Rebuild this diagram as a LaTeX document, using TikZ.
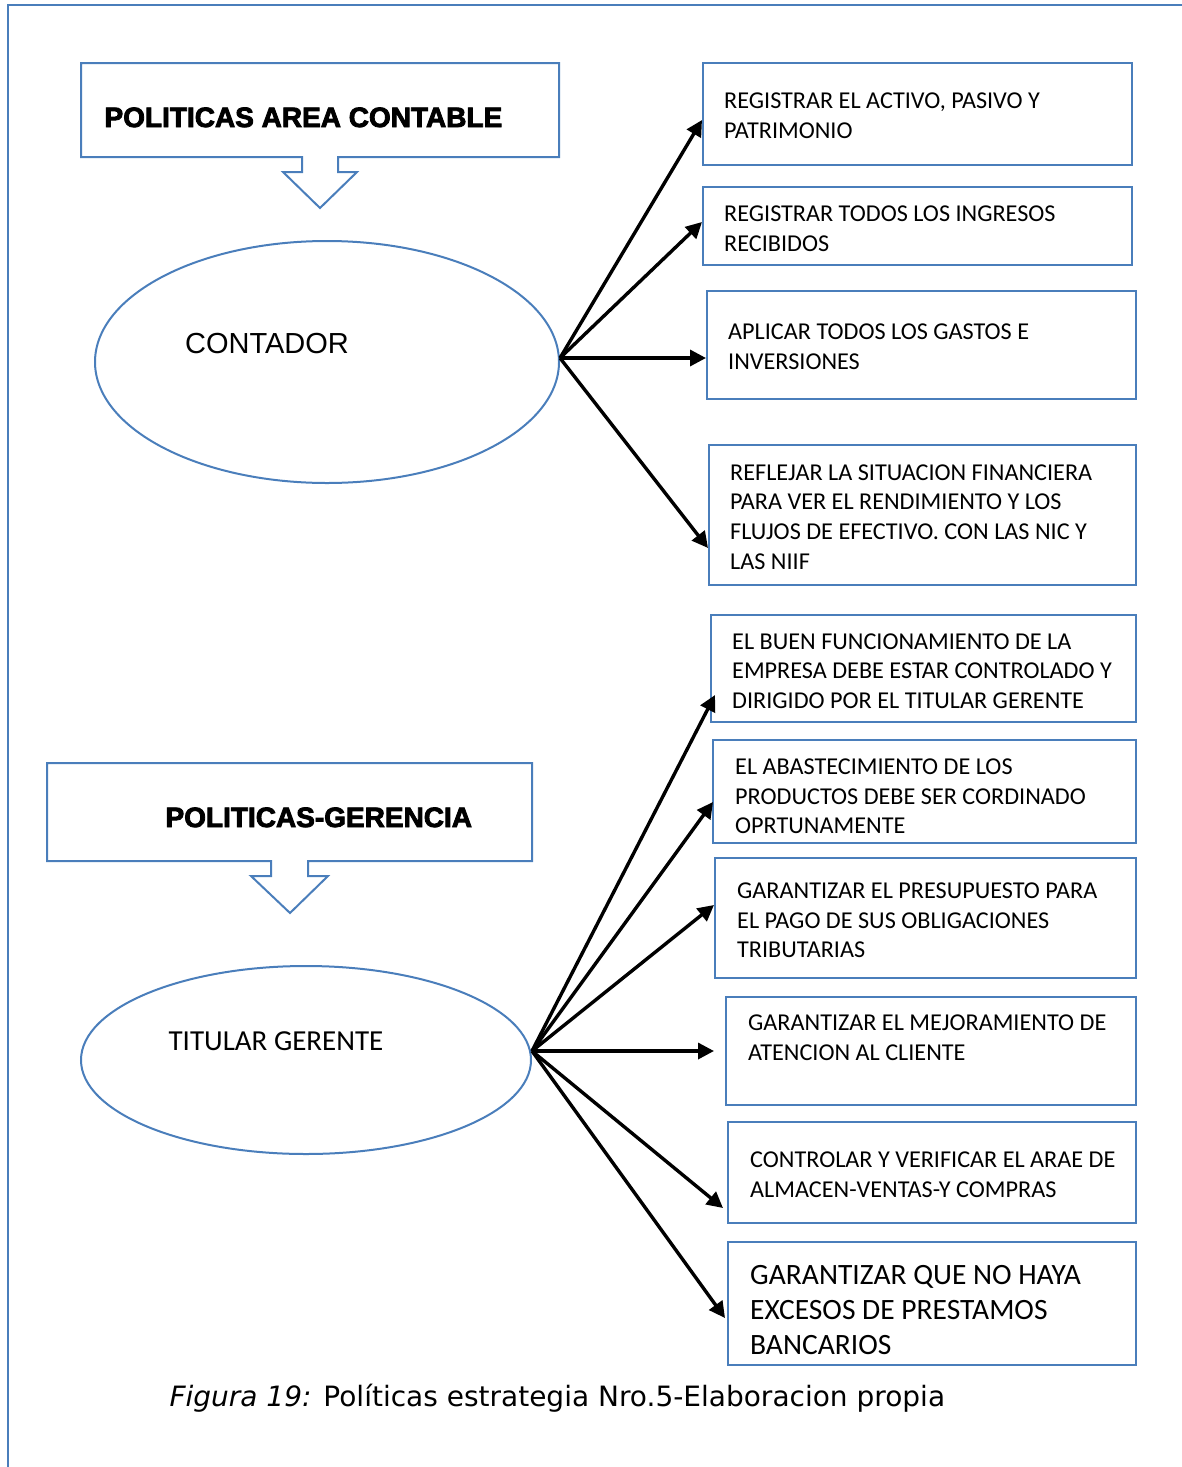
\documentclass[tikz,border=0pt]{standalone}
\usepackage{fontspec}
\usepackage{tikz}
\usetikzlibrary{shapes.geometric,arrows.meta}
\setmainfont{Carlito}
\newfontfamily\arialfont{Liberation Sans}
\newfontfamily\arialblack[BoldFeatures={FakeBold=3}]{Liberation Sans}
\newfontfamily\verdanafont{DejaVu Sans}
\definecolor{wordblue}{RGB}{74,126,187}

\begin{document}
\begin{tikzpicture}[x=1pt,y=-1pt,
	pbox/.style={draw=wordblue,line width=2pt,rectangle},
	ptext/.style={anchor=west,align=left,inner sep=0pt,font=\fontsize{24.2}{29.6}\selectfont},
	bubble/.style={draw=wordblue,line width=2pt,ellipse},
	callout/.style={draw=wordblue,line width=2pt,line join=miter},
	titulo/.style={anchor=base west,font=\arialblack\bfseries\fontsize{28}{32}\selectfont},
	flecha/.style={line width=3.4pt,-{Triangle[length=16pt,width=16pt]}}]
\useasboundingbox (0,0) rectangle (1182,1467);
% marco
\draw[draw=wordblue,line width=2pt] (8,1467) -- (8,5) -- (1182,5);

% area contable
\draw[callout] (81,63) -- (559,63) -- (559,157) -- (338,157) -- (338,172) -- (357,172)
	-- (320,208) -- (283,172) -- (302,172) -- (302,157) -- (81,157) -- cycle;
\node[titulo] at (101,127) (t1) {POLITICAS AREA CONTABLE};
\node[bubble,minimum width=464pt,minimum height=242pt] at (327,362) (c1) {};
\node[font=\arialfont\fontsize{29}{34}\selectfont] at (267,344) (c1t) {CONTADOR};

\node[pbox,minimum width=429pt,minimum height=102pt] at (917.5,114) (r1) {};
\node[pbox,minimum width=429pt,minimum height=78pt] at (917.5,226) (r2) {};
\node[pbox,minimum width=429pt,minimum height=108pt] at (921.5,345) (r3) {};
\node[pbox,minimum width=427pt,minimum height=140pt] at (922.5,515) (r4) {};
\node[ptext] at (724,116) (r1t) {REGISTRAR EL ACTIVO, PASIVO Y\\PATRIMONIO};
\node[ptext] at (724,228.5) (r2t) {REGISTRAR TODOS LOS INGRESOS\\RECIBIDOS};
\node[ptext] at (728,346.5) (r3t) {APLICAR TODOS LOS GASTOS E\\INVERSIONES};
\node[ptext] at (730,517) (r4t) {REFLEJAR LA SITUACION FINANCIERA\\PARA VER EL RENDIMIENTO Y LOS\\FLUJOS DE EFECTIVO. CON LAS NIC Y\\LAS NIIF};

\draw[flecha] ([yshift=4pt]c1.east) -- ([yshift=-6pt]r1.west);
\draw[flecha] ([yshift=4pt]c1.east) -- ([yshift=4pt]r2.west);
\draw[flecha] ([yshift=4pt]c1.east) -- ([yshift=-13pt]r3.west);
\draw[flecha] ([yshift=4pt]c1.east) -- ([yshift=-33pt]r4.west);

% gerencia
\draw[callout] (47,763) -- (532,763) -- (532,861) -- (308,861) -- (308,876) -- (328,876)
	-- (290,913) -- (251,876) -- (271,876) -- (271,861) -- (47,861) -- cycle;
\node[titulo] at (162,827) (t2) {POLITICAS-GERENCIA};
\node[bubble,minimum width=450pt,minimum height=188pt] at (306,1060) (c2) {};
\node[font=\fontsize{29}{34}\selectfont] at (276,1041) (c2t) {TITULAR GERENTE};

\node[pbox,minimum width=425pt,minimum height=107pt] at (923.5,668.5) (g1) {};
\node[pbox,minimum width=423pt,minimum height=103pt] at (924.5,791.5) (g2) {};
\node[pbox,minimum width=421pt,minimum height=120pt] at (925.5,918) (g3) {};
\node[pbox,minimum width=410pt,minimum height=108pt] at (931,1051) (g4) {};
\node[pbox,minimum width=408pt,minimum height=101pt] at (932,1172.5) (g5) {};
\node[pbox,minimum width=408pt,minimum height=123pt] at (932,1303.5) (g6) {};
\node[ptext] at (732,671) (g1t) {EL BUEN FUNCIONAMIENTO DE LA\\EMPRESA DEBE ESTAR CONTROLADO Y\\DIRIGIDO POR EL TITULAR GERENTE};
\node[ptext] at (735,796.5) (g2t) {EL ABASTECIMIENTO DE LOS\\PRODUCTOS DEBE SER CORDINADO\\OPRTUNAMENTE};
\node[ptext] at (737,920.5) (g3t) {GARANTIZAR EL PRESUPUESTO PARA\\EL PAGO DE SUS OBLIGACIONES\\TRIBUTARIAS};
\node[ptext] at (748,1038) (g4t) {GARANTIZAR EL MEJORAMIENTO DE\\ATENCION AL CLIENTE};
\node[ptext] at (750,1175) (g5t) {CONTROLAR Y VERIFICAR EL ARAE DE\\ALMACEN-VENTAS-Y COMPRAS};
\node[ptext,font=\fontsize{29.5}{35}\selectfont] at (750,1310) (g6t) {GARANTIZAR QUE NO HAYA\\EXCESOS DE PRESTAMOS\\BANCARIOS};

\draw[flecha] ([yshift=9pt]c2.east) -- ([yshift=-26.5pt,xshift=5pt]g1.west);
\draw[flecha] ([yshift=9pt]c2.east) -- ([yshift=-10.5pt,xshift=1pt]g2.west);
\draw[flecha] ([yshift=9pt]c2.east) -- ([yshift=13pt]g3.west);
\draw[flecha] ([yshift=9pt]c2.east) -- ([xshift=-11pt]g4.west);
\draw[flecha] ([yshift=9pt]c2.east) -- ([yshift=-35.5pt,xshift=-4pt]g5.west);
\draw[flecha] ([yshift=9pt]c2.east) -- ([yshift=-14.5pt,xshift=-2pt]g6.west);

% pie de figura
\node[anchor=base west,font=\verdanafont\fontsize{28}{32}\selectfont] at (166,1406) (pie) {\textit{Figura 19:} Políticas estrategia Nro.5-Elaboracion propia};
\end{tikzpicture}
\end{document}
